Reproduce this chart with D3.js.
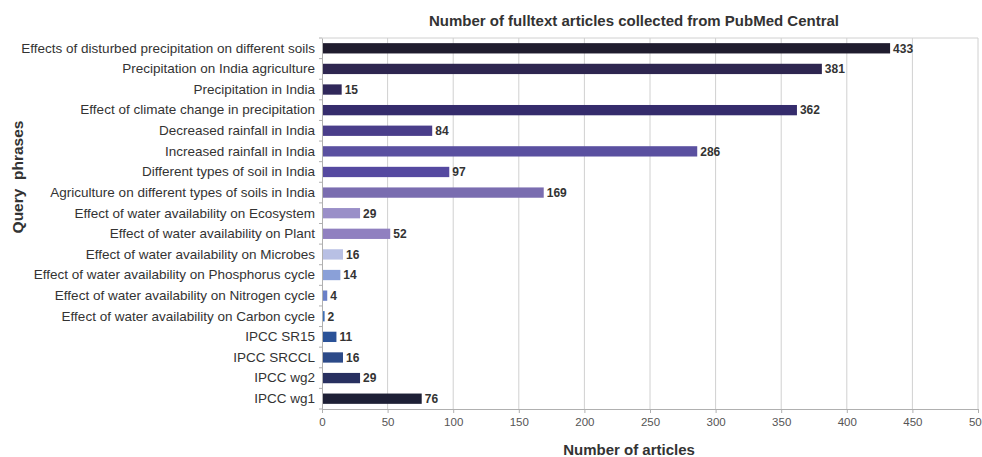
<!DOCTYPE html>
<html>
<head>
<meta charset="utf-8">
<script src="https://cdn.jsdelivr.net/npm/d3@7"></script>
<style>
  html, body { margin: 0; padding: 0; background: #fff; }
  svg { display: block; }
</style>
</head>
<body>
<svg id="chart" width="982" height="457"></svg>
<script>
const categories = [
  "Effects of disturbed precipitation on different soils",
  "Precipitation on India agriculture",
  "Precipitation in India",
  "Effect of climate change in precipitation",
  "Decreased rainfall in India",
  "Increased rainfall in India",
  "Different types of soil in India",
  "Agriculture on different types of soils in India",
  "Effect of water availability on Ecosystem",
  "Effect of water availability on Plant",
  "Effect of water availability on Microbes",
  "Effect of water availability on Phosphorus cycle",
  "Effect of water availability on Nitrogen cycle",
  "Effect of water availability on Carbon cycle",
  "IPCC SR15",
  "IPCC SRCCL",
  "IPCC wg2",
  "IPCC wg1"
];
const articleCounts = [433, 381, 15, 362, 84, 286, 97, 169, 29, 52, 16, 14, 4, 2, 11, 16, 29, 76];
const barColors = [
  "#1f1c2e", "#2e2650", "#30285a", "#352c6c", "#4a3e8a", "#5a50a0",
  "#5549a0", "#7a6db0", "#9a8fc8", "#9080c0", "#b8c0e4", "#8aa0d8",
  "#6a80c8", "#3f70b8", "#2a5298", "#2c4a88", "#283060", "#1e2036"
];
const xTicks = [0, 50, 100, 150, 200, 250, 300, 350, 400, 450, 500];
const titleText = "Number of fulltext articles collected from PubMed Central";
const xTitle = "Number of articles";
const yTitle = "Query  phrases";

(function () {
const svg = d3.select("#chart");
const font = "'Liberation Sans', Arial, sans-serif";
const pLeft = 322, pRight = 978, pTop = 38, pBottom = 409;

const x = d3.scaleLinear().domain([0, 500]).range([pLeft, pRight]);
const y = d3.scaleBand().domain(categories).range([pTop, pBottom]).paddingInner(0.5).paddingOuter(0.25);

// gridlines
svg.append("g").selectAll("line").data(xTicks.slice(1)).join("line")
  .attr("x1", d => x(d)).attr("x2", d => x(d))
  .attr("y1", pTop).attr("y2", pBottom)
  .attr("stroke", "#d0d0d0").attr("stroke-width", 1);
// top border
svg.append("line").attr("x1", pLeft).attr("x2", pRight).attr("y1", pTop).attr("y2", pTop)
  .attr("stroke", "#d0d0d0");

// bars
svg.append("g").selectAll("rect").data(categories).join("rect")
  .attr("x", x(0))
  .attr("y", d => y(d))
  .attr("width", (d, i) => x(articleCounts[i]) - x(0))
  .attr("height", y.bandwidth())
  .attr("fill", (d, i) => barColors[i]);

// value labels
svg.append("g").selectAll("text").data(categories).join("text")
  .attr("x", (d, i) => x(articleCounts[i]) + 3)
  .attr("y", d => y(d) + y.bandwidth() / 2)
  .attr("dy", "0.36em")
  .attr("font-family", font)
  .attr("font-size", 12)
  .attr("font-weight", "bold")
  .attr("fill", "#333")
  .text((d, i) => articleCounts[i]);

// x axis
const xAxis = svg.append("g").attr("transform", `translate(0,${pBottom})`)
  .call(d3.axisBottom(x).tickValues(xTicks).tickSize(4).tickPadding(5));
xAxis.select(".domain").attr("stroke", "#b0b0b0");
xAxis.selectAll(".tick line").attr("stroke", "#b0b0b0");
xAxis.selectAll("text").attr("font-family", font).attr("font-size", 11.5).attr("fill", "#555");

// y axis
const yAxis = svg.append("g").attr("transform", `translate(${pLeft},0)`)
  .call(d3.axisLeft(y).tickSize(0).tickPadding(7));
yAxis.select(".domain").attr("stroke", "#b0b0b0");
yAxis.selectAll("text").attr("font-family", font).attr("font-size", 13.5).attr("fill", "#333");
// small boundary ticks between categories
svg.append("g").selectAll("line").data(d3.range(categories.length + 1)).join("line")
  .attr("x1", pLeft - 3).attr("x2", pLeft)
  .attr("y1", i => pTop + i * (pBottom - pTop) / categories.length)
  .attr("y2", i => pTop + i * (pBottom - pTop) / categories.length)
  .attr("stroke", "#b0b0b0");

// titles
svg.append("text").attr("x", 634).attr("y", 26).attr("text-anchor", "middle")
  .attr("font-family", font).attr("font-size", 15).attr("font-weight", "bold")
  .attr("fill", "#333").text(titleText);
svg.append("text").attr("x", 629).attr("y", 455).attr("text-anchor", "middle")
  .attr("font-family", font).attr("font-size", 15).attr("font-weight", "bold")
  .attr("fill", "#333").text(xTitle);
svg.append("text").attr("transform", "translate(23,177) rotate(-90)").attr("text-anchor", "middle")
  .attr("font-family", font).attr("font-size", 15.5).attr("font-weight", "bold")
  .attr("fill", "#333").attr("xml:space", "preserve").style("white-space", "pre").text(yTitle);
})();
</script>
</body>
</html>
